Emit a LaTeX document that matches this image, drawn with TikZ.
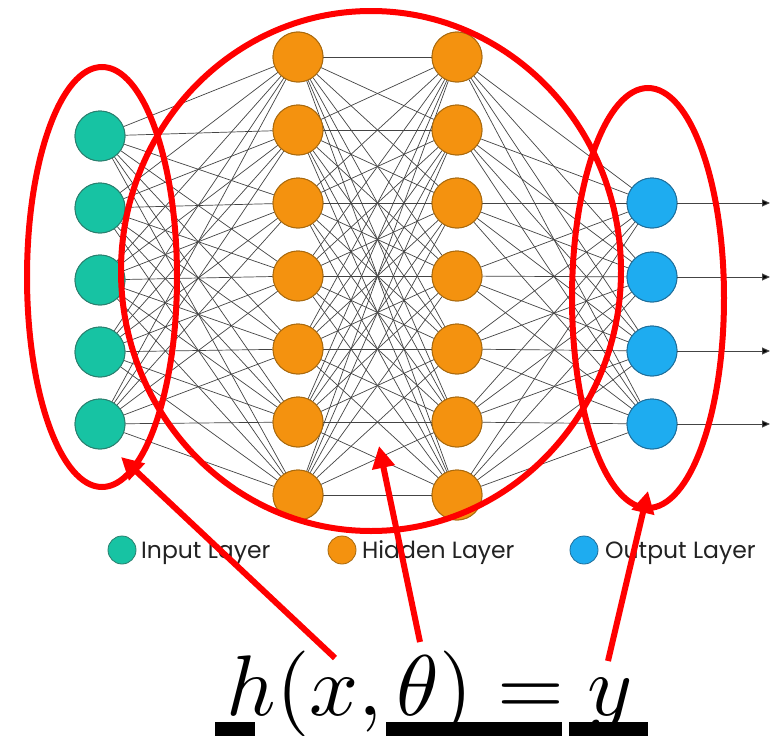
\documentclass[tikz,border=0pt]{standalone}
\usepackage{fontspec}
\newfontfamily\legendfont{Poppins}
\usetikzlibrary{arrows.meta}
\definecolor{inc}{HTML}{17C3A3}
\definecolor{inb}{HTML}{2A7F6E}
\definecolor{hic}{HTML}{F4920F}
\definecolor{hib}{HTML}{A8690E}
\definecolor{ouc}{HTML}{1EACF0}
\definecolor{oub}{HTML}{1F6E9A}
\definecolor{redc}{HTML}{FF0000}
\definecolor{edgec}{HTML}{444444}
\definecolor{legc}{HTML}{222222}
\begin{document}
\begin{tikzpicture}[x=1pt,y=-1pt,
  neuron/.style={circle,minimum size=50pt,inner sep=0pt,line width=0.9pt},
  innode/.style={neuron,fill=inc,draw=inb},
  hinode/.style={neuron,fill=hic,draw=hib},
  ounode/.style={neuron,fill=ouc,draw=oub},
  wire/.style={draw=edgec,line width=0.7pt},
  outarrow/.style={draw=edgec,line width=1pt,-{Triangle[length=8pt,width=7pt,fill=black]}},
  legdot/.style={circle,minimum size=28pt,inner sep=0pt,line width=0.8pt},
  legtext/.style={anchor=base west,inner sep=0pt,text=legc,font=\legendfont\fontsize{23.5}{26}\selectfont},
  redring/.style={draw=redc,line width=6pt},
  redarrow/.style={draw=redc,line width=6pt,-{Triangle[length=22pt,width=22pt]}},
  bar/.style={fill=black}]
\useasboundingbox (0,0) rectangle (780,736);
\fill[white] (0,0) rectangle (780,736);
% nodes
\foreach \i/\y in {1/136,2/208,3/280,4/352,5/424}
  \node[innode] (in\i) at (100,\y) {};
\foreach \i/\y in {1/57,2/130,3/203,4/276,5/349,6/422,7/495}{
  \node[hinode] (ha\i) at (298,\y) {};
  \node[hinode] (hb\i) at (457,\y) {};
}
\foreach \i/\y in {1/203,2/277,3/351,4/424}
  \node[ounode] (out\i) at (652,\y) {};
% connections
\foreach \i in {1,...,5}
  \foreach \j in {1,...,7}
    \draw[wire] (in\i) -- (ha\j);
\foreach \i in {1,...,7}
  \foreach \j in {1,...,7}
    \draw[wire] (ha\i) -- (hb\j);
\foreach \i in {1,...,7}
  \foreach \j in {1,...,4}
    \draw[wire] (hb\i) -- (out\j);
% redraw nodes on top of wires
\foreach \i/\y in {1/136,2/208,3/280,4/352,5/424}
  \node[innode] at (100,\y) {};
\foreach \i/\y in {1/57,2/130,3/203,4/276,5/349,6/422,7/495}{
  \node[hinode] at (298,\y) {};
  \node[hinode] at (457,\y) {};
}
\foreach \i/\y in {1/203,2/277,3/351,4/424}
  \node[ounode] at (652,\y) {};
% output arrows
\foreach \i/\y in {1/203,2/277,3/351,4/424}{
  \coordinate (oe\i) at (770,\y);
  \draw[outarrow] (out\i) -- (oe\i);
}
% legend
\node[legdot,fill=inc,draw=inb] (lg1) at (122,550) {};
\node[legtext] (lt1) at (141,558) {Input Layer};
\node[legdot,fill=hic,draw=hib] (lg2) at (342,550) {};
\node[legtext] (lt2) at (362,558) {Hidden Layer};
\node[legdot,fill=ouc,draw=oub] (lg3) at (584,550) {};
\node[legtext] (lt3) at (605,558) {Output Layer};
% red ellipses
\draw[redring] (102,277) ellipse [x radius=75, y radius=210];
\draw[redring] (371,271) ellipse [x radius=250, y radius=260];
\draw[redring] (648,298) ellipse [x radius=76, y radius=210];
% formula
\node[anchor=base west,inner sep=0pt,scale=8.6] (formula) at (225,715) {$h(x,\theta)=y$};
\coordinate (sa) at (335,658);
\coordinate (ta) at (121,457);
\coordinate (sb) at (420,642);
\coordinate (tb) at (379,446);
\coordinate (sc) at (608,661);
\coordinate (tc) at (648,491);
\draw[redarrow] (sa) -- (ta);
\draw[redarrow] (sb) -- (tb);
\draw[redarrow] (sc) -- (tc);
% black bars
\fill[bar] (215,722) rectangle (255,736);
\fill[bar] (386,722) rectangle (562,736);
\fill[bar] (569,722) rectangle (648,736);
\end{tikzpicture}
\end{document}
